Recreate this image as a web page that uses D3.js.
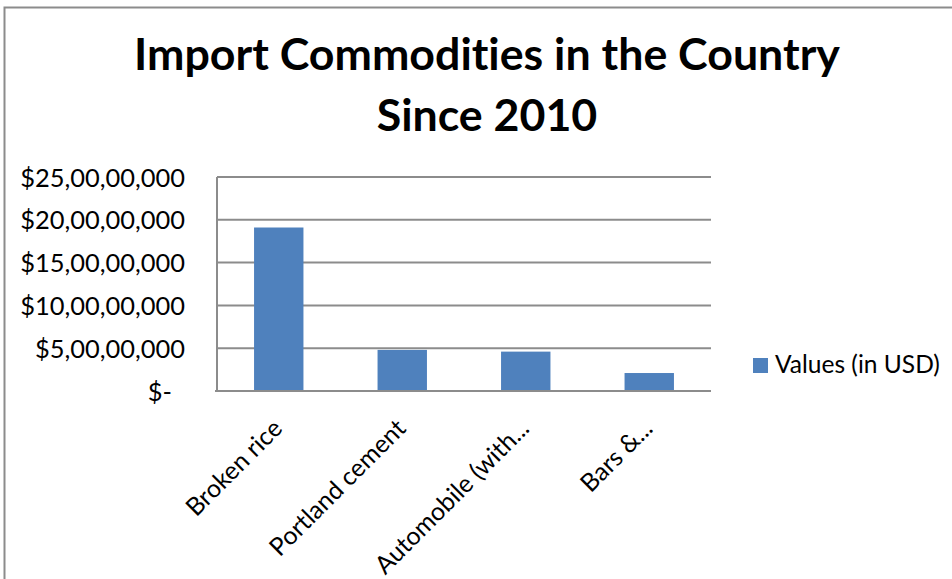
<!DOCTYPE html>
<html>
<head>
<meta charset="utf-8">
<script src="https://cdn.jsdelivr.net/npm/d3@7"></script>
<style>
  body { margin: 0; background: #fff; }
  svg { display: block; font-family: Lato, 'Open Sans', sans-serif; font-variant-ligatures: none; font-feature-settings: "liga" 0; }
</style>
</head>
<body>
<svg id="chart" width="952" height="579"></svg>
<script>
const categories = ['Broken rice', 'Portland cement', 'Automobile (with...', 'Bars &...'];
const values = [191000000, 48000000, 46000000, 21000000];
const yTicks = [0, 50000000, 100000000, 150000000, 200000000, 250000000];
const seriesName = 'Values (in USD)';
const titleLines = ['Import Commodities in the Country', 'Since 2010'];

const svg = d3.select('#chart');
const plot = { left: 217, right: 711, top: 177, bottom: 391 };

// outer chart border (only top and left visible in the crop)
svg.append('rect')
  .attr('x', 4.5).attr('y', 7.5)
  .attr('width', 1200).attr('height', 1200)
  .attr('fill', 'none')
  .attr('stroke', '#8c8c8c')
  .attr('stroke-width', 2);

// scale font size so a text fits a given width
function fit(sel, width) {
  const w = sel.node().getComputedTextLength();
  const fs = parseFloat(sel.attr('font-size'));
  sel.attr('font-size', fs * width / w);
  return fs * width / w;
}

const x = d3.scaleBand().domain(categories).range([plot.left, plot.right]).paddingInner(0.6).paddingOuter(0.3);
const y = d3.scaleLinear().domain([0, 250000000]).range([plot.bottom, plot.top]);

// gridlines
svg.append('g')
  .selectAll('line')
  .data(yTicks.slice(1))
  .join('line')
  .attr('x1', plot.left).attr('x2', plot.right)
  .attr('y1', (d) => y(d)).attr('y2', (d) => y(d))
  .attr('stroke', '#8c8c8c')
  .attr('stroke-width', 2);

// bars
svg.append('g')
  .selectAll('rect')
  .data(values)
  .join('rect')
  .attr('x', (d, i) => x(categories[i]))
  .attr('width', x.bandwidth())
  .attr('y', (d) => y(d))
  .attr('height', (d) => y(0) - y(d))
  .attr('fill', '#4f81bd');

// axis lines
svg.append('line')
  .attr('x1', plot.left).attr('x2', plot.left)
  .attr('y1', plot.top).attr('y2', plot.bottom)
  .attr('stroke', '#8c8c8c').attr('stroke-width', 2);
svg.append('line')
  .attr('x1', plot.left - 2).attr('x2', plot.right)
  .attr('y1', plot.bottom).attr('y2', plot.bottom)
  .attr('stroke', '#8c8c8c').attr('stroke-width', 2);

// y tick labels, Indian digit grouping
const inr = (v) => {
  if (v === 0) return '$-';
  const s = String(v);
  const last3 = s.slice(-3);
  let rest = s.slice(0, -3);
  const parts = [];
  while (rest.length > 2) {
    parts.unshift(rest.slice(-2));
    rest = rest.slice(0, -2);
  }
  if (rest) parts.unshift(rest);
  return '$' + parts.join(',') + ',' + last3;
};

const yAxis = d3.axisLeft(y).tickValues(yTicks).tickFormat(inr).tickSize(0).tickPadding(32);
const yg = svg.append('g').attr('transform', `translate(${plot.left},0)`).call(yAxis);
yg.select('.domain').remove();
yg.selectAll('text')
  .attr('font-size', 20)
  .attr('font-family', "Lato, 'Open Sans', sans-serif")
  .attr('fill', '#000')
  .attr('dy', '0.36em')
  .attr('dx', (d) => (d === 0 ? -13 : 0));
const big = yg.selectAll('text').filter((d) => d === 250000000);
const bw = big.node().getComputedTextLength();
yg.selectAll('text').attr('font-size', 20 * 165 / bw);

// x labels, rotated
const xl = svg.append('g')
  .selectAll('text')
  .data(categories)
  .join('text')
  .attr('transform', (d) => `translate(${x(d) + x.bandwidth() / 2 + 5},${plot.bottom + 39}) rotate(-45)`)
  .attr('text-anchor', 'end')
  .attr('font-size', 20)
  .attr('fill', '#000')
  .text((d) => d);
const fsx = fit(d3.select(xl.nodes()[0]), 124);
xl.attr('font-size', fsx);

// legend
svg.append('rect')
  .attr('x', 753).attr('y', 358)
  .attr('width', 15).attr('height', 15)
  .attr('fill', '#4f81bd');
const lt = svg.append('text')
  .attr('x', 775).attr('y', 373)
  .attr('font-size', 20)
  .attr('fill', '#000')
  .text(seriesName);
fit(lt, 165);

// title
const t1 = svg.append('text')
  .attr('x', 487).attr('y', 70)
  .attr('text-anchor', 'middle')
  .attr('font-size', 38)
  .attr('font-weight', 'bold')
  .attr('fill', '#000')
  .text(titleLines[0]);
fit(t1, 706);
svg.append('text')
  .attr('x', 487).attr('y', 131)
  .attr('text-anchor', 'middle')
  .attr('font-size', t1.attr('font-size'))
  .attr('font-weight', 'bold')
  .attr('fill', '#000')
  .text(titleLines[1]);
</script>
</body>
</html>
